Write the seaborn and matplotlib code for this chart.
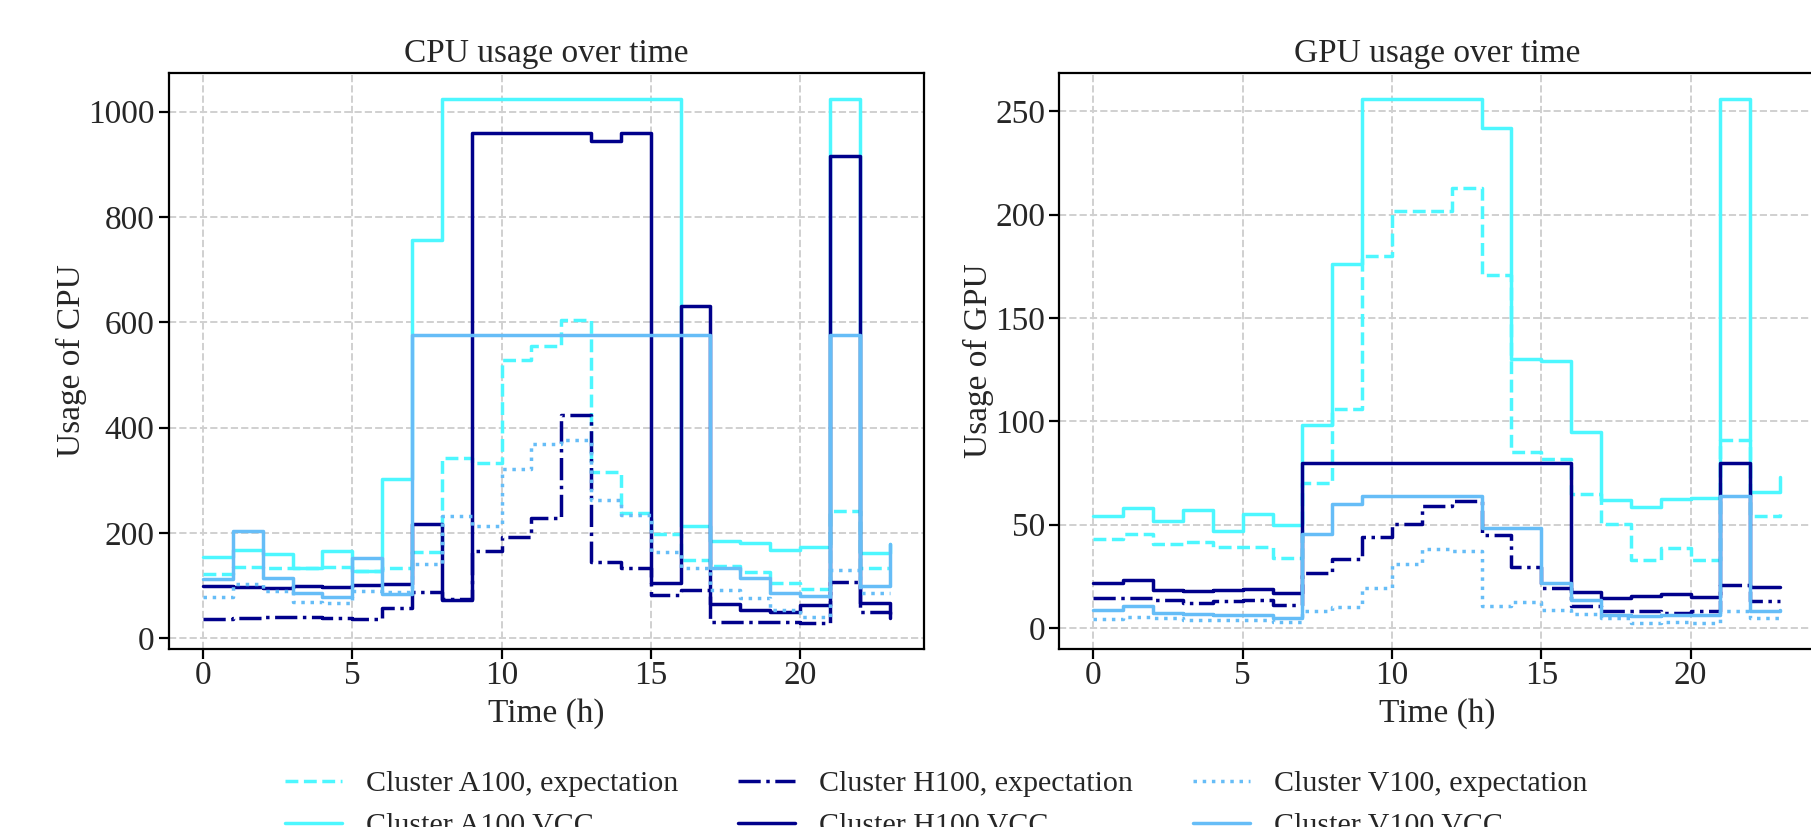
import numpy as np
import matplotlib
matplotlib.use('Agg')
import matplotlib.pyplot as plt
import seaborn as sns

hours = np.arange(24)

# CPU usage per hour (cores)
cpu_a100_exp = [122, 135, 134, 134, 135, 128, 134, 164, 342, 332, 529, 554,
                605, 315, 237, 197, 148, 137, 125, 104, 93, 242, 133, 133]
cpu_a100_vcc = [154, 168, 159, 133, 165, 128, 302, 756, 1024, 1024, 1024, 1024,
                1024, 1024, 1024, 1024, 213, 185, 181, 167, 173, 1024, 162, 178]
cpu_h100_exp = [37, 39, 40, 40, 39, 37, 58, 87, 75, 166, 192, 228,
                424, 144, 133, 82, 92, 30, 30, 31, 29, 106, 50, 41]
cpu_h100_vcc = [99, 97, 96, 99, 97, 101, 103, 217, 73, 960, 960, 960,
                960, 945, 960, 104, 631, 64, 53, 50, 63, 916, 66, 39]
cpu_v100_exp = [79, 103, 90, 68, 66, 90, 87, 141, 232, 213, 321, 368,
                377, 263, 234, 163, 133, 92, 77, 53, 41, 130, 86, 86]
cpu_v100_vcc = [112, 203, 114, 85, 79, 152, 84, 576, 576, 576, 576, 576,
                576, 576, 576, 576, 576, 133, 115, 86, 80, 576, 99, 178]

# GPU usage per hour (devices)
gpu_a100_exp = [43, 45.5, 40.5, 41.5, 39, 39, 34, 70, 106, 180, 202, 202,
                213, 171, 85, 82, 65, 50.5, 33, 38.5, 33, 91, 54, 55]
gpu_a100_vcc = [54, 58, 52, 57, 47, 55, 50, 98, 176, 256, 256, 256,
                256, 242, 130, 129, 95, 62, 58.5, 62.5, 63, 256, 66, 73]
gpu_h100_exp = [14.5, 14.5, 13.5, 12, 13, 13.5, 11, 26.5, 33.5, 44, 50.5, 59,
                61.5, 45, 29.5, 19.5, 10.5, 8, 8, 7.5, 8, 21, 13, 13]
gpu_h100_vcc = [22, 23, 18.5, 18, 18.5, 19, 17, 80, 80, 80, 80, 80,
                80, 80, 80, 80, 17.5, 14.5, 15.5, 16.5, 15, 80, 20, 20]
gpu_v100_exp = [4.5, 5.5, 5, 4, 4, 4, 3, 8, 10, 19.5, 31, 38,
                37.5, 10.5, 12.5, 8.5, 7, 5, 2.5, 3, 2.5, 8, 5, 5]
gpu_v100_vcc = [8.5, 10.5, 7.5, 7, 6.5, 6.5, 5, 45.5, 60, 64, 64, 64,
                64, 48.5, 48.5, 22, 13.5, 6.5, 6, 6.5, 6.5, 64, 8, 8.5]

clusters = ['A100', 'H100', 'V100']
colors = {'A100': '#4df7ff', 'H100': '#00008b', 'V100': '#66bdf7'}
exp_styles = {'A100': '--', 'H100': '-.', 'V100': ':'}

cpu_data = {'A100': (cpu_a100_exp, cpu_a100_vcc),
            'H100': (cpu_h100_exp, cpu_h100_vcc),
            'V100': (cpu_v100_exp, cpu_v100_vcc)}
gpu_data = {'A100': (gpu_a100_exp, gpu_a100_vcc),
            'H100': (gpu_h100_exp, gpu_h100_vcc),
            'V100': (gpu_v100_exp, gpu_v100_vcc)}

sns.set_style('ticks')
plt.rcParams['font.family'] = ['Liberation Serif', 'DejaVu Serif']


def draw_panel(ax, data, what):
    for c in clusters:
        exp_vals, vcc_vals = data[c]
        sns.lineplot(x=hours, y=exp_vals, ax=ax, color=colors[c],
                     linestyle=exp_styles[c], linewidth=1.25,
                     drawstyle='steps-post', legend=False,
                     label=f'Cluster {c}, expectation')
        sns.lineplot(x=hours, y=vcc_vals, ax=ax, color=colors[c],
                     linestyle='-', linewidth=1.25,
                     drawstyle='steps-post', legend=False,
                     label=f'Cluster {c} VCC')
    ax.set_title(f'{what} usage over time', fontsize=12, pad=4)
    ax.set_xlabel('Time (h)', fontsize=12, labelpad=2.5)
    ax.set_ylabel(f'Usage of {what}', fontsize=12, labelpad=0.5)
    ax.tick_params(axis='x', labelsize=12, width=0.8, length=3.5, pad=0.8,
                   color='black')
    ax.tick_params(axis='y', labelsize=12, width=0.8, length=3.5, pad=1.5,
                   color='black')
    ax.grid(True, linestyle='--', color='#d0d0d0', linewidth=0.7)
    ax.set_axisbelow(True)
    for s in ax.spines.values():
        s.set_visible(True)
        s.set_color('black')
        s.set_linewidth(0.8)


fig = plt.figure(figsize=(1811 / 200, 827 / 200), dpi=200)
ax1 = fig.add_axes([0.0931, 0.2152, 0.4171, 0.6968])
ax2 = fig.add_axes([0.5848, 0.2152, 0.4171, 0.6968])

draw_panel(ax1, cpu_data, 'CPU')
draw_panel(ax2, gpu_data, 'GPU')

handles, labels = ax1.get_legend_handles_labels()
fig.legend(handles, labels, loc='center', bbox_to_anchor=(0.517, 0.027),
           ncol=3, frameon=False, fontsize=10.8, handlelength=1.9)

fig.savefig('out.png', dpi=200)
